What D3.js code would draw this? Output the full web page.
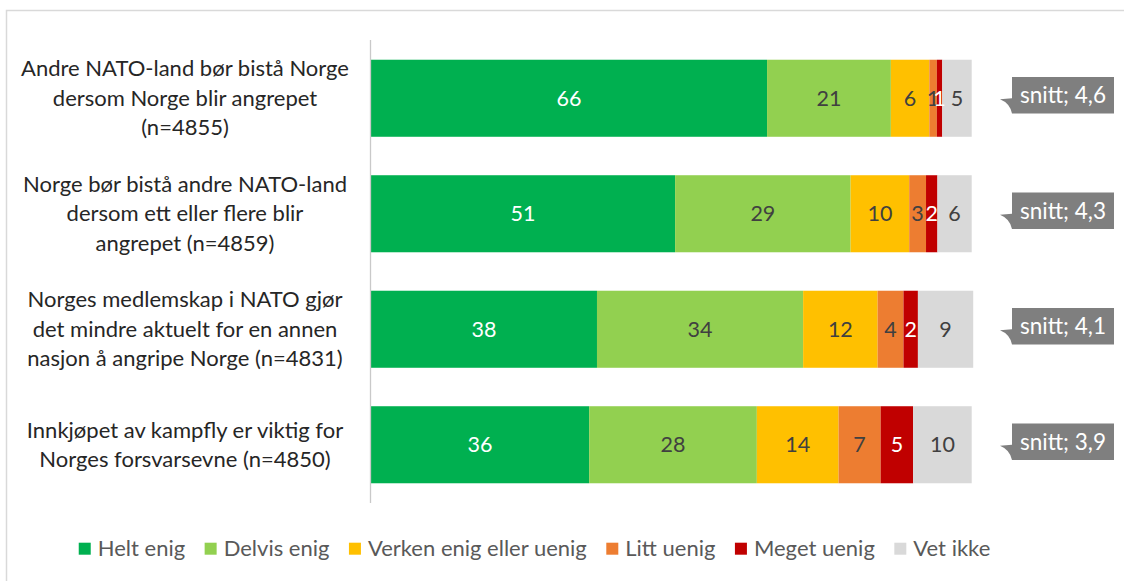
<!DOCTYPE html>
<html>
<head>
<meta charset="utf-8">
<script src="https://cdn.jsdelivr.net/npm/d3@7"></script>
<style>
  html, body { margin: 0; padding: 0; background: #ffffff; }
  svg { display: block; }
  text { font-family: Lato, "Open Sans", sans-serif; }
</style>
</head>
<body>
<svg id="chart" width="1124" height="581"></svg>
<script>
// ---- data ----
const categories = [
  ["Andre NATO-land bør bistå Norge", "dersom Norge blir angrepet", "(n=4855)"],
  ["Norge bør bistå andre NATO-land", "dersom ett eller flere blir", "angrepet (n=4859)"],
  ["Norges medlemskap i NATO gjør", "det mindre aktuelt for en annen", "nasjon å angripe Norge (n=4831)"],
  ["Innkjøpet av kampfly er viktig for", "Norges forsvarsevne (n=4850)"]
];
const seriesNames = ["Helt enig", "Delvis enig", "Verken enig eller uenig", "Litt uenig", "Meget uenig", "Vet ikke"];
const heltEnig   = [65.9, 50.6, 37.6, 36.3];
const delvisEnig = [20.6, 29.2, 34.3, 27.9];
const verken     = [6.4, 9.75, 12.4, 13.6];
const littUenig  = [1.25, 2.8, 4.3, 7.0];
const megetUenig = [0.9, 1.9, 2.4, 5.4];
const vetIkke    = [4.9, 5.7, 9.2, 9.75];
const snitt      = [4.6, 4.3, 4.1, 3.9];

const colors = ["#00b050", "#92d050", "#ffc000", "#ed7d31", "#c00000", "#d9d9d9"];
const labelColors = ["#ffffff", "#404040", "#404040", "#404040", "#ffffff", "#404040"];

const seriesValues = [heltEnig, delvisEnig, verken, littUenig, megetUenig, vetIkke];
const keys = categories.map((c, i) => "c" + i);
const rows = keys.map((k, i) => {
  const r = { key: k };
  seriesNames.forEach((s, j) => r[s] = seriesValues[j][i]);
  return r;
});

const svg = d3.select("#chart");
const W = 1124, H = 581;
svg.append("rect").attr("width", W).attr("height", H).attr("fill", "#fff");
// outer frame
svg.append("rect").attr("x", 6.5).attr("y", 10.5).attr("width", 1200).attr("height", 700)
  .attr("fill", "none").attr("stroke", "#d9d9d9").attr("stroke-width", 1.5);

const x = d3.scaleLinear().domain([0, 100]).range([371, 972]);
const y = d3.scaleBand().domain(keys).range([40.5, 502.5]).paddingInner(0.333).paddingOuter(0.1665);

const stack = d3.stack().keys(seriesNames);
const stacked = stack(rows);

const g = svg.append("g");
g.selectAll("g.series").data(stacked).join("g").attr("class", "series")
  .attr("fill", (d, i) => colors[i])
  .selectAll("rect").data(d => d).join("rect")
  .attr("x", d => x(d[0]))
  .attr("y", d => y(d.data.key))
  .attr("width", d => x(d[1]) - x(d[0]))
  .attr("height", y.bandwidth());

// data labels
g.selectAll("g.labels").data(stacked).join("g").attr("class", "labels")
  .attr("fill", (d, i) => labelColors[i])
  .selectAll("text").data(d => d).join("text")
  .attr("x", d => (x(d[0]) + x(d[1])) / 2)
  .attr("y", d => y(d.data.key) + y.bandwidth() / 2)
  .attr("dy", "0.35em")
  .attr("text-anchor", "middle")
  .attr("font-size", 21.5)
  .text(d => Math.round(d[1] - d[0]));

// axis line
const axis = d3.axisLeft(y).tickSize(0).tickFormat("");
const axG = svg.append("g").attr("transform", "translate(370.5,0)").call(axis);
axG.select(".domain").attr("stroke", "#c9c9c9").attr("stroke-width", 1.3)
  .attr("d", "M0,40V503");

// category labels
const catG = svg.append("g");
categories.forEach((lines, i) => {
  const cy = y(keys[i]) + y.bandwidth() / 2;
  const lh = 29.5;
  const t = catG.append("text").attr("text-anchor", "middle").attr("fill", "#262626")
    .attr("font-size", 22);
  lines.forEach((ln, j) => {
    t.append("tspan").attr("x", 185)
      .attr("y", cy + (j - (lines.length - 1) / 2) * lh)
      .attr("dy", "0.35em").text(ln);
  });
});

// snitt callouts
const fmt = v => "snitt; " + v.toFixed(1).replace(".", ",");
snitt.forEach((v, i) => {
  const cy = y(keys[i]) + y.bandwidth() / 2;
  const bx = 1012, bw = 102, bh = 36.6;
  const by = cy - 3 - bh / 2;
  const tipX = 1000, tipY = cy + 1;
  const p = d3.path();
  p.moveTo(bx, by);
  p.lineTo(bx + bw, by);
  p.lineTo(bx + bw, by + bh);
  p.lineTo(bx, by + bh);
  p.quadraticCurveTo(bx - 2, tipY + 4, tipX, tipY);
  p.lineTo(bx, tipY - 1);
  p.closePath();
  svg.append("path").attr("d", p.toString()).attr("fill", "#7f7f7f");
  svg.append("text").attr("x", bx + bw / 2).attr("y", by + bh / 2).attr("dy", "0.35em")
    .attr("text-anchor", "middle").attr("fill", "#ffffff").attr("font-size", 22.5)
    .text(fmt(v));
});

// legend
const leg = svg.append("g");
const items = leg.selectAll("g").data(seriesNames).join("g");
items.append("rect").attr("width", 12).attr("height", 12).attr("y", 542.7)
  .attr("fill", (d, i) => colors[i]);
items.append("text").attr("x", 19).attr("y", 548.7).attr("dy", "0.35em")
  .attr("fill", "#595959").attr("font-size", 22).text(d => d);
let widths = [];
items.each(function() { widths.push(19 + d3.select(this).select("text").node().getComputedTextLength()); });
const gap = 19.5;
const total = d3.sum(widths) + gap * (widths.length - 1);
let cx = 534.5 - total / 2;
items.attr("transform", (d, i) => { const t = "translate(" + cx + ",0)"; cx += widths[i] + gap; return t; });
</script>
</body>
</html>
